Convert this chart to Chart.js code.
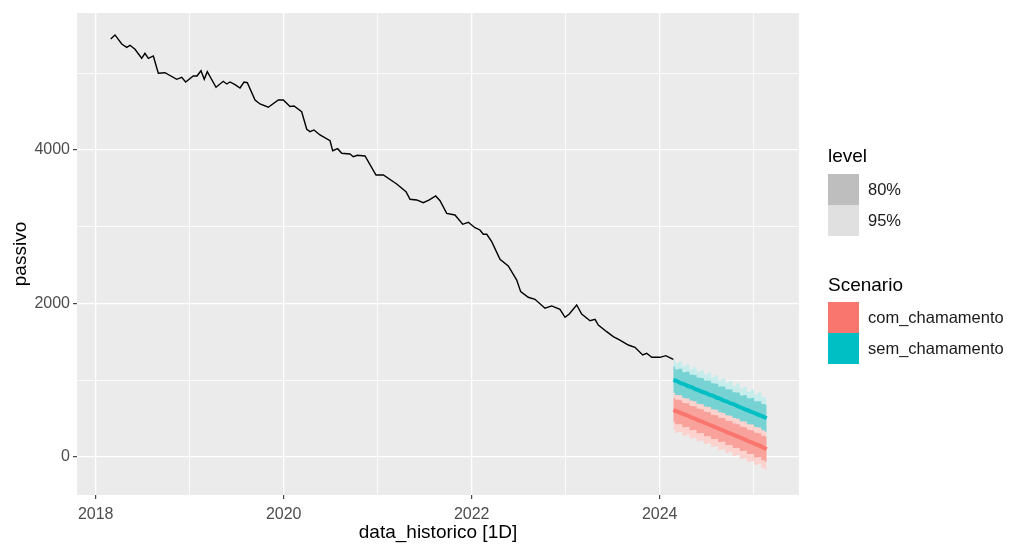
<!DOCTYPE html>
<html>
<head>
<meta charset="utf-8">
<script src="https://cdn.jsdelivr.net/npm/chart.js@4.4.1/dist/chart.umd.min.js"></script>
<style>
  html, body { margin: 0; padding: 0; background: #FFFFFF; }
  #grafico { display: block; }
</style>
</head>
<body>
<canvas id="grafico" width="1009" height="545"></canvas>
<script>
// historico (ano decimal) e passivo observado
const anos_hist = [2018.160, 2018.205, 2018.277, 2018.330, 2018.365, 2018.418, 2018.489, 2018.524, 2018.560, 2018.613,
  2018.666, 2018.737, 2018.862, 2018.915, 2018.957, 2019.038, 2019.078, 2019.120, 2019.155, 2019.187,
  2019.280, 2019.357, 2019.394, 2019.429, 2019.482, 2019.535, 2019.578, 2019.613, 2019.695, 2019.748,
  2019.836, 2019.943, 2019.996, 2020.067, 2020.110, 2020.191, 2020.245, 2020.280, 2020.322, 2020.386,
  2020.493, 2020.521, 2020.574, 2020.617, 2020.705, 2020.740, 2020.783, 2020.865, 2020.982, 2021.060,
  2021.202, 2021.301, 2021.344, 2021.415, 2021.485, 2021.549, 2021.617, 2021.663, 2021.734, 2021.822,
  2021.904, 2021.964, 2022.035, 2022.088, 2022.123, 2022.160, 2022.213, 2022.301, 2022.389, 2022.479,
  2022.521, 2022.602, 2022.673, 2022.780, 2022.851, 2022.939, 2022.993, 2023.038, 2023.117, 2023.170,
  2023.259, 2023.312, 2023.347, 2023.436, 2023.506, 2023.577, 2023.666, 2023.737, 2023.819, 2023.862,
  2023.915, 2024.003, 2024.064, 2024.145];
const passivo = [5447, 5499, 5381, 5338, 5364, 5312, 5195, 5260, 5195, 5225,
  5000, 5007, 4921, 4947, 4886, 4964, 4964, 5033, 4921, 5020,
  4817, 4895, 4860, 4886, 4851, 4808, 4886, 4877, 4652, 4600,
  4557, 4652, 4652, 4567, 4573, 4499, 4270, 4239, 4261, 4196,
  4121, 3991, 4017, 3957, 3948, 3913, 3931, 3922, 3674, 3674,
  3557, 3457, 3358, 3349, 3314, 3349, 3401, 3340, 3175, 3153,
  3032, 3058, 2988, 2958, 2902, 2902, 2805, 2576, 2489, 2306,
  2154, 2081, 2055, 1938, 1968, 1925, 1820, 1863, 1981, 1863,
  1776, 1794, 1720, 1633, 1568, 1524, 1459, 1429, 1329, 1351,
  1299, 1299, 1320, 1273];

// previsao
const anos_prev = [2024.145, 2024.183, 2024.221, 2024.260, 2024.298, 2024.336, 2024.374, 2024.412, 2024.451,
  2024.489, 2024.527, 2024.565, 2024.603, 2024.642, 2024.680, 2024.718, 2024.756, 2024.794,
  2024.833, 2024.871, 2024.909, 2024.947, 2024.985, 2025.024, 2025.062, 2025.100, 2025.138];

const sem_media = [1003, 990, 962, 950, 925, 912, 888, 872, 850, 835, 812, 800, 775, 760, 735, 722, 698, 685, 660, 642, 622, 605, 583, 566, 545, 527, 504];
const sem_hi80 = [1177, 1140, 1150, 1105, 1110, 1072, 1068, 1035, 1030, 995, 992, 960, 955, 920, 918, 882, 878, 845, 840, 802, 805, 765, 768, 728, 725, 690, 680];
const sem_lo80 = [838, 808, 805, 770, 762, 735, 725, 695, 688, 658, 650, 622, 615, 582, 575, 545, 538, 508, 500, 465, 462, 428, 422, 390, 385, 348, 330];
const sem_hi95 = [1273, 1225, 1240, 1182, 1205, 1142, 1168, 1110, 1132, 1072, 1098, 1038, 1062, 1000, 1022, 968, 990, 928, 958, 888, 912, 850, 876, 812, 840, 782, 765];
const sem_lo95 = [760, 728, 720, 682, 680, 645, 640, 608, 605, 570, 568, 532, 530, 495, 492, 458, 452, 420, 415, 378, 378, 340, 338, 302, 300, 262, 250];

const com_media = [612, 595, 575, 555, 540, 515, 500, 478, 460, 440, 420, 402, 383, 362, 345, 322, 305, 285, 265, 245, 226, 205, 188, 165, 148, 125, 100];
const com_hi80 = [765, 745, 738, 705, 702, 665, 662, 628, 622, 590, 582, 552, 545, 512, 508, 472, 468, 435, 428, 395, 388, 355, 350, 315, 310, 276, 265];
const com_lo80 = [460, 428, 428, 388, 392, 348, 352, 310, 312, 272, 272, 235, 235, 195, 198, 155, 158, 118, 118, 78, 80, 38, 40, -2, 0, -42, -61];
const com_hi95 = [850, 835, 828, 805, 792, 762, 758, 728, 718, 688, 680, 650, 642, 610, 605, 570, 568, 530, 528, 490, 488, 450, 448, 410, 408, 370, 360];
const com_lo95 = [352, 315, 325, 278, 290, 240, 252, 205, 215, 170, 178, 130, 140, 90, 102, 52, 65, 12, 25, -25, -15, -65, -52, -105, -92, -148, -170];

// eixos
const anos_grade = [2018, 2019, 2020, 2021, 2022, 2023, 2024, 2025];
const anos_rotulos = [2018, 2020, 2022, 2024];
const passivo_grade = [0, 1000, 2000, 3000, 4000, 5000];
const passivo_rotulos = [0, 2000, 4000];

const cores = {
  com: '#F8766D', com80: '#F9A29B', com95: '#FBD2CE',
  sem: '#00BFC4', sem80: '#77D2D4', sem95: '#C6ECEC'
};

function pts(xs, ys) {
  return xs.map((x, i) => ({ x: x, y: ys[i] }));
}

function faixa(ys, cor, ordem, preenche) {
  return {
    data: pts(anos_prev, ys),
    borderWidth: 0,
    pointRadius: 0,
    stepped: 'middle',
    backgroundColor: cor,
    fill: preenche ? '+1' : false,
    order: ordem
  };
}

const fundoPainel = {
  id: 'fundoPainel',
  beforeDraw(chart) {
    const a = chart.chartArea, ctx = chart.ctx;
    ctx.save();
    ctx.fillStyle = '#EBEBEB';
    ctx.fillRect(a.left, a.top, a.right - a.left, a.bottom - a.top);
    ctx.restore();
  }
};

const legendaGG = {
  id: 'legendaGG',
  afterDraw(chart) {
    const ctx = chart.ctx;
    ctx.save();
    ctx.textBaseline = 'middle';
    ctx.textAlign = 'left';
    ctx.fillStyle = '#000000';
    ctx.font = '19px "Liberation Sans", Arial, sans-serif';
    ctx.fillText('level', 828, 157);
    ctx.fillText('Scenario', 828, 286);

    const chaves = [
      { y: 174, cor: '#BEBEBE', txt: '80%' },
      { y: 205, cor: '#E0E0E0', txt: '95%' },
      { y: 302, cor: cores.com, txt: 'com_chamamento' },
      { y: 333, cor: cores.sem, txt: 'sem_chamamento' }
    ];
    ctx.font = '16.5px "Liberation Sans", Arial, sans-serif';
    chaves.forEach(k => {
      ctx.fillStyle = k.cor;
      ctx.fillRect(828, k.y, 31, 31);
      ctx.fillStyle = '#1A1A1A';
      ctx.fillText(k.txt, 868, k.y + 16);
    });
    ctx.restore();
  }
};

new Chart(document.getElementById('grafico'), {
  type: 'line',
  data: {
    datasets: [
      { data: pts(anos_hist, passivo), borderColor: '#000000', borderWidth: 1.4, pointRadius: 0, fill: false, order: 0 },
      { data: pts(anos_prev, sem_media), borderColor: cores.sem, borderWidth: 4, pointRadius: 0, fill: false, order: 1 },
      { data: pts(anos_prev, com_media), borderColor: cores.com, borderWidth: 4, pointRadius: 0, fill: false, order: 1 },
      faixa(com_hi80, cores.com80, 2, true),
      faixa(com_lo80, cores.com80, 2, false),
      faixa(sem_hi80, cores.sem80, 3, true),
      faixa(sem_lo80, cores.sem80, 3, false),
      faixa(com_hi95, cores.com95, 4, true),
      faixa(com_lo95, cores.com95, 4, false),
      faixa(sem_hi95, cores.sem95, 5, true),
      faixa(sem_lo95, cores.sem95, 5, false)
    ]
  },
  options: {
    responsive: false,
    animation: false,
    layout: { padding: { top: 13, right: 210, left: 0, bottom: 0 } },
    plugins: {
      legend: { display: false },
      tooltip: { enabled: false }
    },
    scales: {
      x: {
        type: 'linear',
        min: 2017.801,
        max: 2025.482,
        afterFit: s => { s.height = 50; },
        afterBuildTicks: s => { s.ticks = anos_grade.map(v => ({ value: v })); },
        border: { display: false },
        grid: {
          color: '#FFFFFF',
          lineWidth: c => anos_rotulos.includes(c.tick && c.tick.value) ? 1.3 : 0.8,
          tickColor: c => anos_rotulos.includes(c.tick && c.tick.value) ? '#333333' : 'rgba(0,0,0,0)',
          tickLength: 4,
          tickWidth: 1.1
        },
        ticks: {
          autoSkip: false,
          maxRotation: 0,
          padding: 6,
          color: '#4D4D4D',
          font: { family: '"Liberation Sans", Arial, sans-serif', size: 16 },
          callback: v => anos_rotulos.includes(v) ? String(v) : ''
        },
        title: {
          display: true,
          text: 'data_historico [1D]',
          color: '#000000',
          font: { family: '"Liberation Sans", Arial, sans-serif', size: 19 },
          padding: { top: 0, bottom: 1 }
        }
      },
      y: {
        type: 'linear',
        min: -495,
        max: 5785,
        afterFit: s => { s.width = 77; },
        afterBuildTicks: s => { s.ticks = passivo_grade.map(v => ({ value: v })); },
        border: { display: false },
        grid: {
          color: '#FFFFFF',
          lineWidth: c => passivo_rotulos.includes(c.tick && c.tick.value) ? 1.3 : 0.8,
          tickColor: c => passivo_rotulos.includes(c.tick && c.tick.value) ? '#333333' : 'rgba(0,0,0,0)',
          tickLength: 4,
          tickWidth: 1.1
        },
        ticks: {
          autoSkip: false,
          padding: 3,
          color: '#4D4D4D',
          font: { family: '"Liberation Sans", Arial, sans-serif', size: 16 },
          callback: v => passivo_rotulos.includes(v) ? String(v) : ''
        },
        title: {
          display: true,
          text: 'passivo',
          color: '#000000',
          font: { family: '"Liberation Sans", Arial, sans-serif', size: 19 },
          padding: { top: 9, bottom: 0 }
        }
      }
    }
  },
  plugins: [fundoPainel, legendaGG]
});
</script>
</body>
</html>
